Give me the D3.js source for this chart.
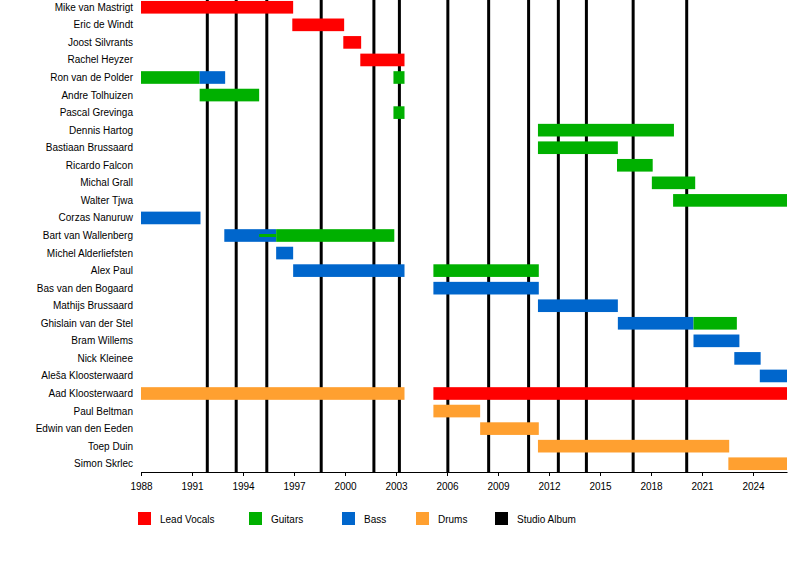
<!DOCTYPE html>
<html><head><meta charset="utf-8">
<script src="https://cdn.jsdelivr.net/npm/d3@7/dist/d3.min.js"></script>
<style>body{margin:0;background:#fff}text{font-family:"Liberation Sans",Arial,sans-serif}</style>
</head><body><svg id="c" width="800" height="588"></svg>
<script>
const members=["Mike van Mastrigt","Eric de Windt","Joost Silvrants","Rachel Heyzer","Ron van de Polder","Andre Tolhuizen","Pascal Grevinga","Dennis Hartog","Bastiaan Brussaard","Ricardo Falcon","Michal Grall","Walter Tjwa","Corzas Nanuruw","Bart van Wallenberg","Michel Alderliefsten","Alex Paul","Bas van den Bogaard","Mathijs Brussaard","Ghislain van der Stel","Bram Willems","Nick Kleinee","Aleša Klooster­waard".replace("\u00ad",""),"Aad Kloosterwaard","Paul Beltman","Edwin van den Eeden","Toep Duin","Simon Skrlec"];
const roles=["Lead Vocals","Guitars","Bass","Drums","Studio Album"];
const colors=["#ff0000","#00b000","#0066cc","#ffa030","#000000"];
// [member, role, start, end]
const periods=[
["Mike van Mastrigt",0,1988,1996.95],["Eric de Windt",0,1996.9,1999.95],["Joost Silvrants",0,1999.9,2000.95],["Rachel Heyzer",0,2000.9,2003.5],
["Ron van de Polder",1,1988,1991.45],["Ron van de Polder",2,1991.45,1992.95],["Ron van de Polder",1,2002.85,2003.5],
["Andre Tolhuizen",1,1991.45,1994.95],["Pascal Grevinga",1,2002.85,2003.5],
["Dennis Hartog",1,2011.35,2019.35],["Bastiaan Brussaard",1,2011.35,2016.05],["Ricardo Falcon",1,2016,2018.1],
["Michal Grall",1,2018.05,2020.6],["Walter Tjwa",1,2019.3,2026],
["Corzas Nanuruw",2,1988,1991.5],["Bart van Wallenberg",2,1992.9,1995.95],["Bart van Wallenberg",1,1995.95,2002.9],
["Michel Alderliefsten",2,1995.95,1996.95],["Alex Paul",2,1996.95,2003.5],["Alex Paul",1,2005.2,2011.4],
["Bas van den Bogaard",2,2005.2,2011.4],["Mathijs Brussaard",2,2011.35,2016.05],["Ghislain van der Stel",2,2016.05,2020.5],
["Ghislain van der Stel",1,2020.5,2023.05],["Bram Willems",2,2020.5,2023.2],["Nick Kleinee",2,2022.9,2024.45],["Aleša Kloosterwaard",2,2024.4,2026],
["Aad Kloosterwaard",3,1988,2003.5],["Aad Kloosterwaard",0,2005.2,2026],["Paul Beltman",3,2005.2,2007.95],
["Edwin van den Eeden",3,2007.95,2011.4],["Toep Duin",3,2011.35,2022.6],["Simon Skrlec",3,2022.55,2026]];
const thinLines=[["Bart van Wallenberg",1,1994.95,1995.95]];
const albums=[1991.9,1993.6,1995.4,1998.6,2001.7,2003.2,2006.05,2008.45,2010.8,2012.55,2014.2,2016.95,2020.1];
const ticks=[1988,1991,1994,1997,2000,2003,2006,2009,2012,2015,2018,2021,2024];
members[21]="Aleša Kloosterwaard";
const svg=d3.select("#c");
const x=d3.scaleLinear().domain([1988,2026]).range([141,787]);
const y=d3.scaleBand().domain(members).range([-1.5,472.5]).paddingInner(0.28).paddingOuter(0.14);
svg.selectAll(".al").data(albums).join("line").attr("x1",d=>x(d)).attr("x2",d=>x(d)).attr("y1",0).attr("y2",472).attr("stroke","#000").attr("stroke-width",3);
svg.selectAll(".bar").data(periods).join("rect").attr("x",d=>x(d[2])).attr("width",d=>x(d[3])-x(d[2])).attr("y",d=>y(d[0])).attr("height",y.bandwidth()).attr("fill",d=>colors[d[1]]);
svg.selectAll(".thin").data(thinLines).join("rect").attr("x",d=>x(d[2])).attr("width",d=>x(d[3])-x(d[2])).attr("y",d=>y(d[0])+y.bandwidth()/2-1.5).attr("height",3).attr("fill",d=>colors[d[1]]);
svg.selectAll(".lab").data(members).join("text").attr("x",133).attr("y",d=>y(d)+y.bandwidth()/2).attr("dy","0.35em").attr("text-anchor","end").attr("font-size",10).text(d=>d);
const ax=svg.append("g").attr("transform","translate(0,472)").call(d3.axisBottom(x).tickValues(ticks).tickFormat(d3.format("d")).tickSize(4).tickSizeOuter(0));
ax.select(".domain").attr("stroke","#000");
ax.selectAll("text").attr("font-size",10).attr("font-family","Liberation Sans, Arial, sans-serif").attr("dy","1.1em");
const lx=[138,249,342,416,495];
const lg=svg.selectAll(".lg").data(roles).join("g").attr("transform",(d,i)=>`translate(${lx[i]},512)`);
lg.append("rect").attr("width",13).attr("height",13).attr("fill",(d,i)=>colors[i]);
lg.append("text").attr("x",22).attr("y",7).attr("dy","0.35em").attr("font-size",10).text(d=>d);
</script></body></html>
